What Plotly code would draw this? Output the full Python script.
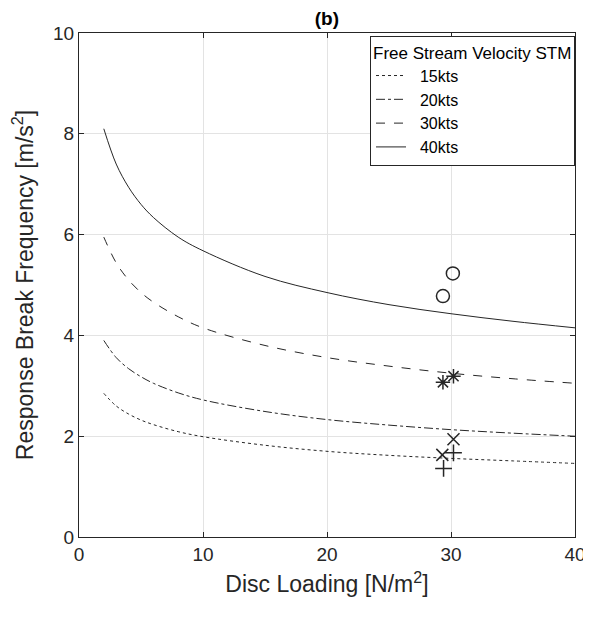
import plotly.graph_objects as go

# Disc loading sample points [N/m^2]
disc_loading = [2, 3, 4, 5, 6, 8, 10, 15, 20, 25, 30, 35, 40]

# Response break frequency
freq_15kts = [2.85, 2.60, 2.44, 2.32, 2.23, 2.09, 1.99, 1.82, 1.70, 1.62, 1.56, 1.51, 1.46]
freq_20kts = [3.90, 3.56, 3.34, 3.18, 3.05, 2.86, 2.72, 2.49, 2.33, 2.22, 2.13, 2.06, 2.00]
freq_30kts = [5.95, 5.44, 5.10, 4.85, 4.66, 4.37, 4.15, 3.80, 3.56, 3.39, 3.25, 3.14, 3.05]
freq_40kts = [8.10, 7.40, 6.94, 6.60, 6.34, 5.95, 5.68, 5.17, 4.85, 4.61, 4.43, 4.28, 4.15]

# Measured points
plus_x = [29.4, 30.2]
plus_y = [1.36, 1.67]
cross_x = [29.3, 30.2]
cross_y = [1.63, 1.94]
star_x = [29.35, 30.2]
star_y = [3.07, 3.19]
circle_x = [29.35, 30.15]
circle_y = [4.78, 5.23]

line_col = "#262626"

fig = go.Figure()

curves = [
    ("15kts", freq_15kts, "dot"),
    ("20kts", freq_20kts, "dashdot"),
    ("30kts", freq_30kts, "dash"),
    ("40kts", freq_40kts, "solid"),
]
for name, ys, dash in curves:
    fig.add_trace(go.Scatter(
        x=disc_loading, y=ys, name="\u00a0\u00a0" + name, mode="lines",
        line=dict(color=line_col, width=1, dash=dash, shape="spline"),
    ))

markers = [
    (plus_x, plus_y, "cross-thin"),
    (cross_x, cross_y, "x-thin"),
    (star_x, star_y, "asterisk"),
    (circle_x, circle_y, "circle-open"),
]
for mx, my, sym in markers:
    fig.add_trace(go.Scatter(
        x=mx, y=my, mode="markers", showlegend=False,
        marker=dict(symbol=sym, size=12 if sym != "circle-open" else 13,
                    color=line_col, line=dict(color=line_col, width=1.5)),
    ))

axis_common = dict(
    showgrid=True, gridcolor="#e3e3e3", gridwidth=1,
    showline=True, linecolor="#262626", linewidth=1, mirror="ticks",
    ticks="inside", ticklen=5, tickcolor="#262626",
    zeroline=False, automargin=False,
    tickfont=dict(size=19, color="#262626"),
)

# page body has an 8px margin, so the figure is sized 8px smaller each way
fig.update_layout(
    width=583, height=610,
    margin=dict(l=71, r=16, t=25, b=81),
    paper_bgcolor="white", plot_bgcolor="white",
    font=dict(family="Liberation Sans, Arial, sans-serif", color="#262626"),
    title=dict(text="<b>(b)</b>", x=0.547, xanchor="center", y=0.994, yanchor="top",
               pad=dict(t=0, b=0), font=dict(size=19, color="black"), automargin=False),
    xaxis=dict(range=[0, 40], tickvals=[0, 10, 20, 30, 40],
               title=dict(text="Disc Loading [N/m<sup>2</sup>]", font=dict(size=23), standoff=12),
               **axis_common),
    yaxis=dict(range=[0, 10], tickvals=[0, 2, 4, 6, 8, 10],
               title=dict(text="Response Break Frequency [m/s<sup>2</sup>]", font=dict(size=23), standoff=16),
               **axis_common),
    legend=dict(
        title=dict(text="Free Stream Velocity STM", font=dict(size=17, color="black")),
        x=1, xanchor="right", y=0.995, yanchor="top",
        bgcolor="white", bordercolor="#262626", borderwidth=1,
        font=dict(size=16, color="black"),
        tracegroupgap=0, itemwidth=30,
    ),
)

fig.write_html("out.html")
